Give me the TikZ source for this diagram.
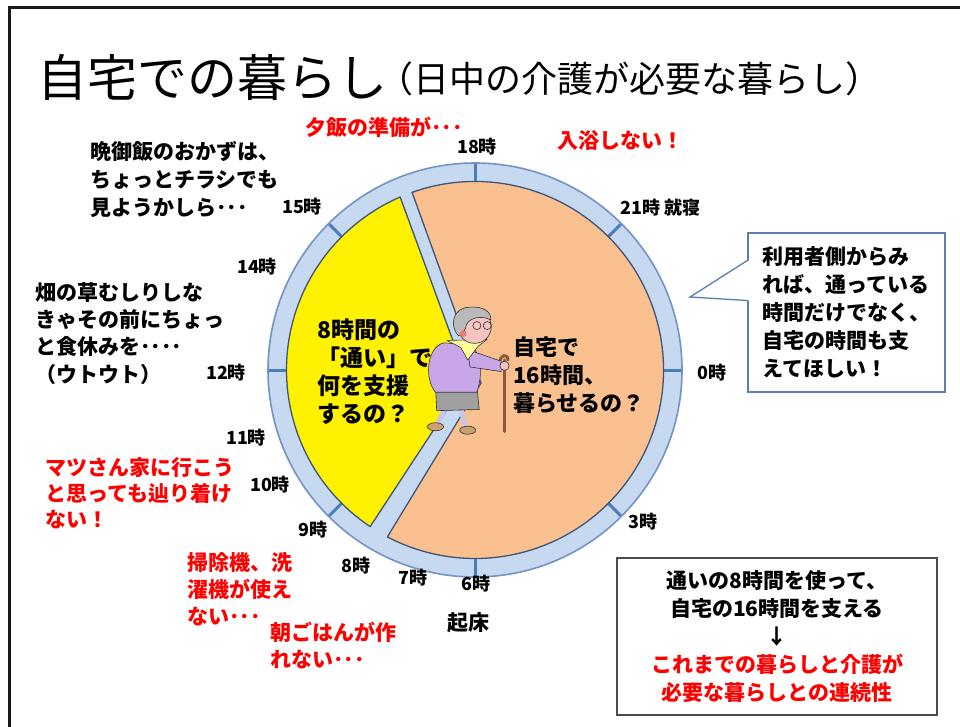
\documentclass[tikz,border=0pt]{standalone}
\usepackage{fontspec}
\setmainfont{Noto Sans CJK JP}

\definecolor{ringblue}{HTML}{C6D9F1}
\definecolor{ringline}{HTML}{7393C4}
\definecolor{tickblue}{HTML}{4A7EBB}
\definecolor{wedgeline}{HTML}{3F5577}
\definecolor{homeorange}{HTML}{FAC090}
\definecolor{notered}{HTML}{FF0000}
\definecolor{calloutline}{HTML}{5B7DB0}
\definecolor{boxgray}{HTML}{4A4A4A}
\definecolor{sweater}{HTML}{C9A6E8}
\definecolor{skin}{HTML}{F7C4C4}
\definecolor{hair}{HTML}{B9B9B9}
\definecolor{scarf}{HTML}{FFFF99}
\definecolor{cheek}{HTML}{F07878}
\definecolor{shoe}{HTML}{C9A070}
\definecolor{stocking}{HTML}{CBC6E6}
\definecolor{cane}{HTML}{8B5A3C}

\tikzset{
  title/.style={font=\fontsize{50}{54}\selectfont, inner sep=0pt},
  subtitle/.style={font=\fontsize{36}{40}\selectfont, inner sep=0pt},
  hour/.style={font=\fontsize{18}{20}\selectfont\bfseries, inner sep=0pt},
  note/.style={font=\fontsize{21}{28}\selectfont\bfseries, align=left, anchor=north west, inner sep=0pt},
  rednote/.style={note, text=notered},
  wedgetext/.style={note, font=\fontsize{23}{28}\selectfont\bfseries},
  hourtick/.style={tickblue, line width=3pt},
  wedge/.style={draw=wedgeline, line width=1.3pt, line join=round},
  figline/.style={draw=black!80, line width=0.6pt, line join=round},
  frame/.style={black!90, line width=3pt},
}

\begin{document}
\begin{tikzpicture}[x=1pt, y=-1pt]
  % Coordinates
  \coordinate (C) at (475,370);
  \coordinate (tip) at (690,297);

  \useasboundingbox[fill=white] (0,0) rectangle (960,727);
  \draw[frame] (9,727) -- (9,8) -- (960,8);

  % Title
  \node[title, anchor=west] (title) at (37,77) {自宅での暮らし};
  \node[subtitle, anchor=west] (subtitle) at ([xshift=-10pt, yshift=-2pt]title.east) {（日中の介護が必要な暮らし）};

  % Clock face
  \begin{scope}[shift={(C)}]
    \fill[ringblue] (0,0) circle (207);
    \draw[ringline, line width=1.6pt] (0,0) circle (207);
    \foreach \h in {0,3,...,21}
      \draw[hourtick] (15*\h:186) -- (15*\h:206);
    % day service, 8 hours
    \filldraw[wedge, fill=yellow] (-8,9) -- (123.8:188.5)
      arc[start angle=123.8, end angle=246.6, radius=188.5] -- cycle;
    % at home, 16 hours
    \filldraw[wedge, fill=homeorange] (6,13) -- (250.5:188.5)
      arc[start angle=250.5, end angle=477.7, radius=188.5] -- cycle;
  \end{scope}

  % Hours
  \node[hour] (h18) at (477,147) {18時};
  \node[hour, anchor=west] (h21) at (620,208) {21時 就寝};
  \node[hour] (h0) at (712,373) {0時};
  \node[hour] (h3) at (643,522) {3時};
  \node[hour] (h6) at (476,584) {6時};
  \node[hour] (h7) at (413,578) {7時};
  \node[hour] (h8) at (356,566) {8時};
  \node[hour] (h9) at (313,530) {9時};
  \node[hour] (h10) at (270,485) {10時};
  \node[hour] (h11) at (246,438) {11時};
  \node[hour] (h12) at (226,373) {12時};
  \node[hour] (h14) at (257,267) {14時};
  \node[hour] (h15) at (302,207) {15時};
  \node[note, anchor=center] (wake) at (468,623) {起床};

  % Wedge texts
  \node[wedgetext] (daytext) at (317,319) {8時間の\\「通い」で\\何を支援\\するの？};
  \node[wedgetext, font=\fontsize{22}{28}\selectfont\bfseries] (hometext) at (513,336) {自宅で\\16時間、\\暮らせるの？};

  % Old woman with a cane
  \begin{scope}[shift={(470,375)}, scale=1.15, shift={(-470,-375)}]
    \draw[cane, line width=3.5pt, line cap=round] (500,362) -- (500,424);
    \draw[cane, line width=3pt, line cap=round] (496,364) .. controls (496,357) and (503,356) .. (503,362);
    \draw[stocking, line width=5pt] (449,402) -- (442,417);
    \draw[stocking, line width=5pt] (462,404) -- (466,420);
    \filldraw[figline, fill=shoe] (440,420) ellipse (7 and 3.5);
    \filldraw[figline, fill=shoe] (468,423) ellipse (7 and 3.5);
    \filldraw[figline, fill=gray!75] (440,385) -- (476,385) -- (478,405) -- (441,406) -- cycle;
    \filldraw[figline, fill=sweater] (447,347) .. controls (431,352) and (431,380) .. (440,390)
      -- (476,390) .. controls (481,375) and (480,360) .. (472,349) -- cycle;
    \filldraw[figline, fill=sweater] (468,353) -- (497,363) -- (497,372) -- (470,368) -- cycle;
    \filldraw[figline, fill=skin] (500,367) circle (4);
    \filldraw[figline, fill=scarf] (450,345) -- (485,344) -- (477,350) -- (468,362) -- (462,351) -- cycle;
    \filldraw[figline, fill=skin] (474,333) circle (14.5);
    \filldraw[figline, fill=hair] (460,341) .. controls (451,331) and (456,316) .. (470,316)
      .. controls (481,315) and (489,320) .. (488,327) .. controls (480,323) and (470,325) .. (467,331)
      .. controls (466,336) and (464,339) .. (460,341) -- cycle;
    \fill[cheek] (464,339) circle (3);
    \draw[figline] (476,332) circle (3.5) (485,332) circle (3.5);
  \end{scope}

  % Voices around the clock
  \node[note] (supper) at (90,141) {晩御飯のおかずは、\\ちょっとチラシでも\\見ようかしら･･･};
  \node[note, font=\fontsize{21}{27.3}\selectfont\bfseries] (field) at (35,282) {畑の草むしりしな\\きゃその前にちょっ\\と食休みを････\\（ウトウト）};
  \node[rednote, font=\fontsize{21}{26}\selectfont\bfseries] (visit) at (45,457) {マツさん家に行こう\\と思っても辿り着け\\ない！};
  \node[rednote, font=\fontsize{21}{27}\selectfont\bfseries] (chores) at (187,552) {掃除機、洗\\濯機が使え\\ない･･･};
  \node[rednote, font=\fontsize{21}{27}\selectfont\bfseries] (breakfast) at (270,622) {朝ごはんが作\\れない･･･};
  \node[rednote, anchor=west] (prep) at (305,127) {夕飯の準備が･･･};
  \node[rednote, anchor=west] (bath) at (557,140) {入浴しない！};

  % Callout
  \node[note, anchor=center, draw=calloutline, line width=1.3pt, fill=white,
        minimum width=197pt, minimum height=159pt, inner sep=6pt] (voice) at (846.5,312.5)
    {利用者側からみ\\れば、通っている\\時間だけでなく、\\自宅の時間も支\\えてほしい！};
  \fill[white] ([xshift=1.5pt, yshift=12pt]voice.west) -- (tip) -- ([xshift=1.5pt, yshift=52pt]voice.west) -- cycle;
  \draw[calloutline, line width=1.3pt] ([yshift=12pt]voice.west) -- (tip) -- ([yshift=52pt]voice.west);

  % Summary
  \node[note, anchor=center, align=center, draw=boxgray, line width=2.5pt,
        minimum width=320pt, minimum height=157pt] (summary) at (777,636.5)
    {通いの8時間を使って、\\自宅の16時間を支える\\↓\\\textcolor{notered}{これまでの暮らしと介護が}\\\textcolor{notered}{必要な暮らしとの連続性}};
\end{tikzpicture}
\end{document}
